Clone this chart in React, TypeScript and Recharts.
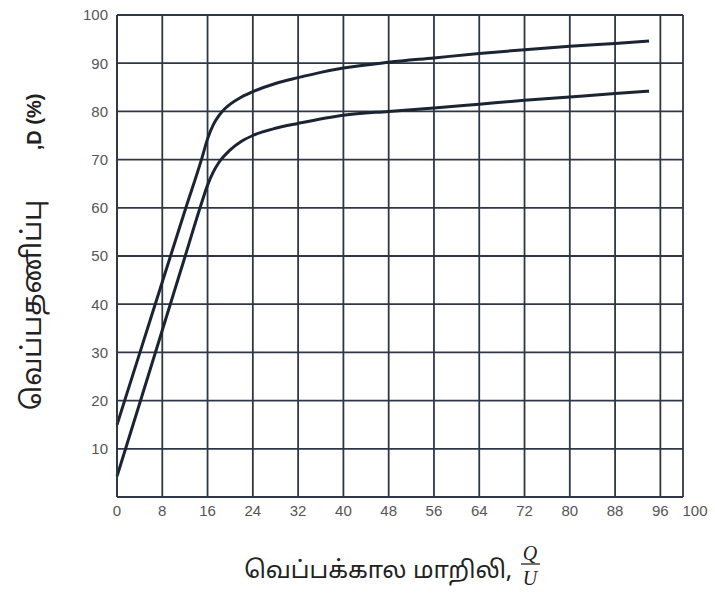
import { CartesianGrid, Line, LineChart, XAxis, YAxis } from "recharts"

// Heat exchanger effectiveness vs. thermal constant Q/U
const xTicks = [0, 8, 16, 24, 32, 40, 48, 56, 64, 72, 80, 88, 96, 100]
const yTicks = [0, 10, 20, 30, 40, 50, 60, 70, 80, 90, 100]

const upperX = [0, 4, 8, 12, 15, 16, 17, 18, 19, 20, 22, 24, 28, 32, 36, 40, 48, 56, 64, 72, 80, 88, 94]
const upperY = [15, 29.8, 44.6, 59.4, 70.3, 74.3, 77.2, 79.1, 80.5, 81.5, 83, 84.1, 85.8, 87, 88.1, 89, 90.2, 91.1, 92, 92.8, 93.5, 94.1, 94.6]

const lowerX = [0, 4, 8, 12, 15, 16, 17, 18, 20, 22, 24, 28, 32, 40, 48, 56, 64, 72, 80, 88, 94]
const lowerY = [4.3, 19.4, 34.6, 49.8, 61.2, 64.7, 67.4, 69.4, 72, 73.8, 75, 76.5, 77.5, 79.2, 80, 80.7, 81.5, 82.3, 83, 83.7, 84.2]

const upper = upperX.map((x, i) => ({ x, d: upperY[i] }))
const lower = lowerX.map((x, i) => ({ x, d: lowerY[i] }))

const ink = "#1b2432"
const gridInk = "#2f3746"
const tamil = "'Noto Sans Tamil', 'Latha', 'Noto Sans', sans-serif"
const sans = "'Liberation Sans', Arial, sans-serif"

function XTick(props: any) {
  const { x, y, payload } = props
  // the last label sits just past the frame, as in the printed chart
  const shift = payload.value === 100 ? 12 : 0
  return (
    <text x={x + shift} y={y} dy="0.71em" textAnchor="middle" fill="#555" fontSize={15} fontFamily={sans}>
      {payload.value}
    </text>
  )
}

function YLabel() {
  return (
    <g>
      <text
        transform="translate(41, 305) rotate(-90)"
        textAnchor="middle"
        fontFamily={tamil}
        fontSize={27}
        fill="#222"
      >
        வெப்பதணிப்பு
      </text>
      <text
        transform="translate(41, 122) rotate(-90)"
        textAnchor="middle"
        fontFamily={sans}
        fontSize={20}
        fontWeight="bold"
        fill="#222"
      >
        ,D (%)
      </text>
    </g>
  )
}

function XLabel() {
  return (
    <g>
      <text x={512} y={578} textAnchor="end" fontFamily={tamil} fontSize={24} fill="#222">
        வெப்பக்கால மாறிலி,
      </text>
      <text
        x={530}
        y={560}
        textAnchor="middle"
        fontFamily="'Liberation Serif', serif"
        fontStyle="italic"
        fontSize={20}
        fill="#222"
      >
        Q
      </text>
      <line x1={521} x2={540} y1={564} y2={564} stroke="#222" strokeWidth={1.3} />
      <text
        x={530}
        y={585}
        textAnchor="middle"
        fontFamily="'Liberation Serif', serif"
        fontStyle="italic"
        fontSize={20}
        fill="#222"
      >
        U
      </text>
    </g>
  )
}

export default function App() {
  return (
    <div style={{ position: "absolute", left: 0, top: 0, width: 715, height: 595, background: "#fff" }}>
      <LineChart width={715} height={595} margin={{ top: 15, right: 32, bottom: 68, left: 57 }}>
        <CartesianGrid stroke={gridInk} strokeWidth={1.8} />
        <XAxis
          dataKey="x"
          type="number"
          domain={[0, 100]}
          ticks={xTicks}
          interval={0}
          height={30}
          axisLine={{ stroke: gridInk, strokeWidth: 1.8 }}
          tickLine={false}
          tickSize={0}
          tickMargin={8}
          tick={<XTick />}
          allowDuplicatedCategory={false}
        />
        <YAxis
          type="number"
          domain={[0, 100]}
          ticks={yTicks}
          interval={0}
          width={60}
          axisLine={{ stroke: gridInk, strokeWidth: 1.8 }}
          tickLine={false}
          tickSize={0}
          tickMargin={9}
          tickFormatter={(v: number) => (v === 0 ? "" : String(v))}
          tick={{ fill: "#555", fontSize: 15, fontFamily: sans }}
        />
        <Line
          data={upper}
          dataKey="d"
          type="monotone"
          stroke={ink}
          strokeWidth={3}
          dot={false}
          isAnimationActive={false}
        />
        <Line
          data={lower}
          dataKey="d"
          type="monotone"
          stroke={ink}
          strokeWidth={3}
          dot={false}
          isAnimationActive={false}
        />
        <YLabel />
        <XLabel />
      </LineChart>
    </div>
  )
}
